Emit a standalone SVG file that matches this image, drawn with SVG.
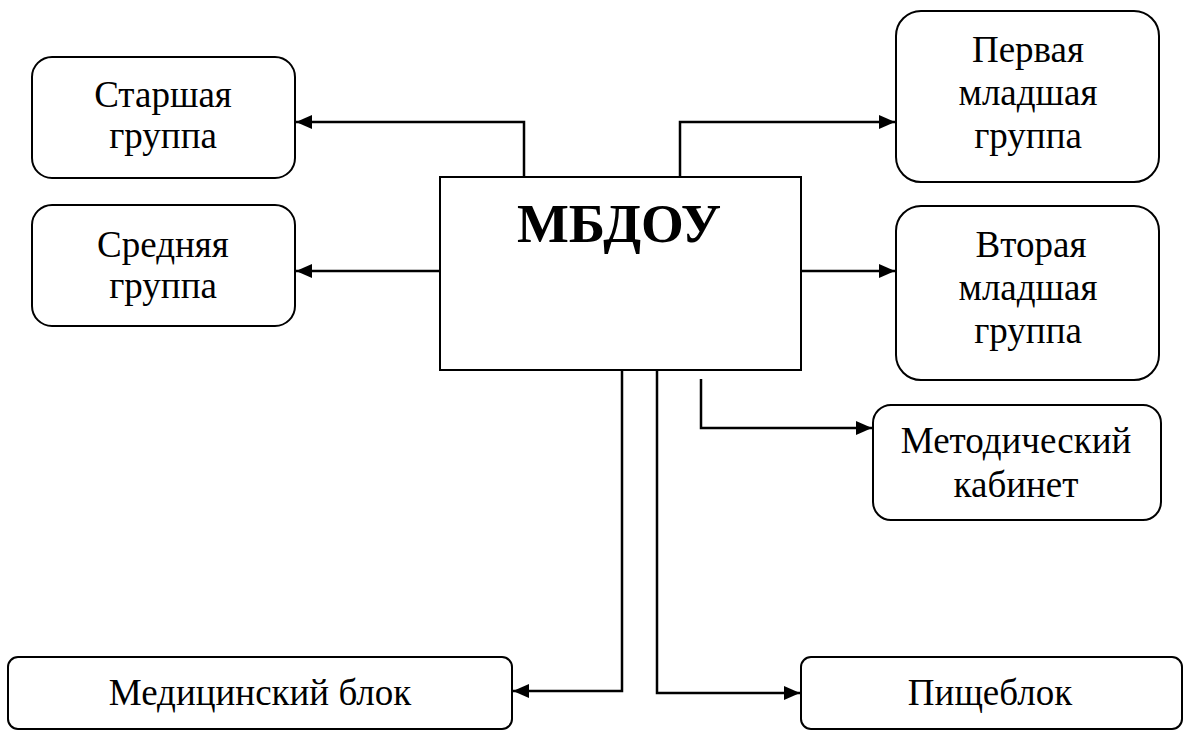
<svg xmlns="http://www.w3.org/2000/svg" width="1184" height="731" viewBox="0 0 1184 731">
<style>
.box{fill:#fff;stroke:#000;stroke-width:2}
.t{font-family:"Liberation Serif","Times New Roman",serif;font-size:37px;fill:#000;text-anchor:middle}
.b{font-family:"Liberation Serif","Times New Roman",serif;font-size:55px;font-weight:bold;fill:#000;text-anchor:middle}
.c{fill:none;stroke:#000;stroke-width:2.5}
</style>
<defs>
<marker id="ah" viewBox="0 0 16 14" refX="16" refY="7" markerWidth="16" markerHeight="14" markerUnits="userSpaceOnUse" orient="auto">
<path d="M0,0 L16,7 L0,14 Z" fill="#000"/>
</marker>
</defs>
<rect width="1184" height="731" fill="#fff"/>
<g id="connectors">
<path class="c" d="M524,185 V122 H296" marker-end="url(#ah)"/>
<path class="c" d="M440,271 H296" marker-end="url(#ah)"/>
<path class="c" d="M680,177 V122 H895" marker-end="url(#ah)"/>
<path class="c" d="M800,271 H895" marker-end="url(#ah)"/>
<path class="c" d="M701,379 V428 H872" marker-end="url(#ah)"/>
<path class="c" d="M622,368 V691 H513" marker-end="url(#ah)"/>
<path class="c" d="M657,368 V693 H800" marker-end="url(#ah)"/>
</g>
<g id="node-mbdou">
<rect class="box" x="440" y="177" width="361" height="193"/>
<text class="b" x="619" y="242">МБДОУ</text>
</g>
<g id="node-starshaya">
<rect class="box" x="32" y="57" width="263" height="121" rx="20"/>
<text class="t" x="163" y="107">Старшая</text>
<text class="t" x="163" y="148">группа</text>
</g>
<g id="node-srednyaya">
<rect class="box" x="32" y="205" width="263" height="121" rx="20"/>
<text class="t" x="163" y="257">Средняя</text>
<text class="t" x="163" y="298">группа</text>
</g>
<g id="node-pervaya">
<rect class="box" x="896" y="11" width="263" height="171" rx="25"/>
<text class="t" x="1028" y="62">Первая</text>
<text class="t" x="1028" y="105">младшая</text>
<text class="t" x="1028" y="148">группа</text>
</g>
<g id="node-vtoraya">
<rect class="box" x="896" y="206" width="263" height="174" rx="25"/>
<text class="t" x="1031" y="257">Вторая</text>
<text class="t" x="1028" y="300">младшая</text>
<text class="t" x="1028" y="343">группа</text>
</g>
<g id="node-metod">
<rect class="box" x="873" y="405" width="288" height="115" rx="18"/>
<text class="t" x="1016" y="453">Методический</text>
<text class="t" x="1016" y="497">кабинет</text>
</g>
<g id="node-med">
<rect class="box" x="8" y="657" width="504" height="72" rx="10"/>
<text class="t" x="260" y="705">Медицинский блок</text>
</g>
<g id="node-pishche">
<rect class="box" x="801" y="657" width="381" height="72" rx="10"/>
<text class="t" x="990" y="705">Пищеблок</text>
</g>
</svg>
